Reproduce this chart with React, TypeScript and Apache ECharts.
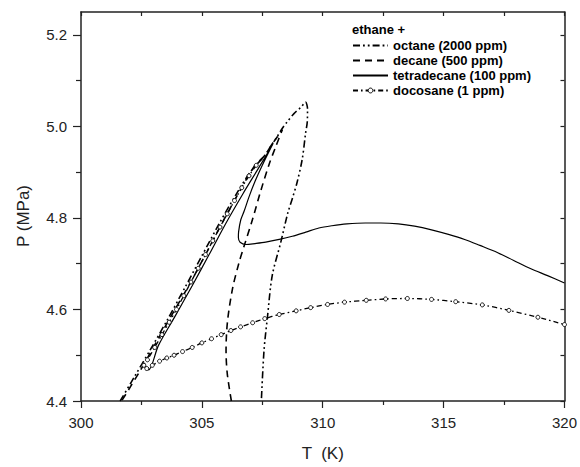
import React, { useEffect, useRef } from "react";
import * as echarts from "echarts";

const FONT = 'Arial, "Liberation Sans", Helvetica, sans-serif';

const xTicks = [300, 305, 310, 315, 320];
const yMajorTicks = [4.4, 4.6, 4.8, 5.0, 5.2];
const yMinorTicks = [4.5, 4.7, 4.9, 5.1];
const yRightTicks = [4.4, 4.5, 4.6, 4.7, 4.8, 4.9, 5.0, 5.1, 5.2];

const seriesNames = [
  "octane (2000 ppm)",
  "decane (500 ppm)",
  "tetradecane (100 ppm)",
  "docosane (1 ppm)",
];

// octane (2000 ppm)
const octaneT = [301.62, 302.2, 302.9, 303.6, 304.3, 305.0, 305.7, 306.4, 307.0, 307.64, 307.85, 308.12, 308.33, 308.53, 308.81, 309.1, 309.29, 309.37, 309.36, 309.29, 309.15, 308.94, 308.74, 308.55, 308.26, 307.91, 307.71, 307.57, 307.46];
const octaneP = [4.4, 4.452, 4.515, 4.58, 4.648, 4.717, 4.786, 4.85, 4.9, 4.939, 4.957, 4.978, 4.996, 5.01, 5.028, 5.042, 5.053, 5.038, 5.01, 4.985, 4.928, 4.878, 4.842, 4.81, 4.746, 4.674, 4.582, 4.51, 4.4];

// decane (500 ppm)
const decaneT = [306.22, 306.05, 306.0, 306.06, 306.27, 306.54, 306.75, 307.09, 307.44, 307.78, 308.05, 308.33, 308.05, 307.85, 307.6, 307.2, 306.6, 305.9, 305.2, 304.5, 303.8, 303.1, 302.4, 301.68];
const decaneP = [4.4, 4.46, 4.51, 4.574, 4.646, 4.703, 4.739, 4.796, 4.86, 4.917, 4.955, 4.993, 4.972, 4.957, 4.936, 4.915, 4.862, 4.795, 4.725, 4.656, 4.592, 4.527, 4.462, 4.4];

// tetradecane (100 ppm)
const tetraT = [302.62, 302.8, 303.2, 303.9, 304.6, 305.3, 306.0, 306.7, 307.3, 307.7, 307.94, 307.5, 307.2, 306.95, 306.75, 306.61, 306.52, 306.51, 306.58, 306.82, 307.2, 307.64, 308.2, 308.74, 309.3, 309.84, 310.38, 311.0, 311.76, 312.4, 313.13, 313.8, 314.5, 315.2, 315.87, 316.5, 317.24, 317.9, 318.61, 319.3, 320.0];
const tetraP = [4.478, 4.468, 4.521, 4.586, 4.652, 4.72, 4.789, 4.853, 4.905, 4.94, 4.962, 4.915, 4.88, 4.846, 4.815, 4.796, 4.77, 4.757, 4.747, 4.742, 4.744, 4.747, 4.753, 4.76, 4.769, 4.778, 4.783, 4.787, 4.789, 4.789, 4.787, 4.782, 4.774, 4.764, 4.753, 4.74, 4.724, 4.707, 4.689, 4.674, 4.658];

// docosane (1 ppm)
const docoT = [307.25, 306.95, 306.65, 306.35, 306.05, 305.75, 305.45, 305.15, 304.85, 304.55, 304.25, 303.95, 303.65, 303.35, 303.05, 302.75, 302.6, 302.72, 302.95, 303.25, 303.55, 303.85, 304.2, 304.6, 305.0, 305.4, 305.8, 306.2, 306.6, 307.1, 307.6, 308.2, 308.9, 309.5, 310.2, 310.9, 311.8, 312.6, 313.5, 314.5, 315.5, 316.6, 317.7, 318.9, 320.0];
const docoP = [4.915, 4.892, 4.866, 4.838, 4.809, 4.78, 4.75, 4.72, 4.69, 4.66, 4.63, 4.6, 4.572, 4.545, 4.517, 4.49, 4.478, 4.471, 4.478, 4.487, 4.494, 4.5, 4.508, 4.517, 4.527, 4.536, 4.545, 4.554, 4.562, 4.571, 4.58, 4.589, 4.597, 4.604, 4.611, 4.616, 4.62, 4.623, 4.624, 4.622, 4.617, 4.61, 4.598, 4.583, 4.567];

const zip = (t: number[], p: number[]) => t.map((v, i) => [v, p[i]]);

const AX = "#222";

export default function App() {
  const ref = useRef<HTMLDivElement>(null);
  useEffect(() => {
    if (!ref.current) return;
    const chart = echarts.init(ref.current, null, { renderer: "svg" });
    const axisLine = { show: true, lineStyle: { color: AX, width: 1.5 } };
    const tickStyle = { color: AX, width: 1.2 };
    const hidden = { opacity: 0 };
    const option: any = {
      animation: false,
      backgroundColor: "#fff",
      textStyle: { fontFamily: FONT },
      grid: { left: 81, right: 13, top: 12, bottom: 59, containLabel: false },
      xAxis: [
        {
          type: "value",
          min: 300,
          max: 320,
          interval: 5,
          position: "bottom",
          axisLine,
          axisTick: { show: true, inside: false, length: 7, lineStyle: tickStyle },
          minorTick: { show: true, splitNumber: 2, length: 4, lineStyle: tickStyle },
          splitLine: { show: false },
          minorSplitLine: { show: false },
          axisLabel: {
            margin: 14,
            fontSize: 15,
            color: AX,
            fontFamily: FONT,
            formatter: (v: number) => (xTicks.includes(v) ? String(v) : ""),
          },
          name: "T  (K)",
          nameLocation: "middle",
          nameGap: 44,
          nameTextStyle: { fontSize: 17, color: AX, fontFamily: FONT },
        },
        {
          type: "value",
          min: 300,
          max: 320,
          interval: 2.5,
          position: "top",
          axisLine,
          axisTick: { show: true, inside: true, length: 4, lineStyle: tickStyle },
          axisLabel: { show: false },
          splitLine: { show: false },
        },
      ],
      yAxis: [
        {
          type: "value",
          min: 4.4,
          max: 5.25,
          position: "left",
          axisLine,
          axisTick: { show: true, inside: false, length: 8, customValues: yMajorTicks, lineStyle: tickStyle },
          axisLabel: {
            customValues: yMajorTicks,
            formatter: (v: number) => v.toFixed(1),
            margin: 14,
            fontSize: 15,
            color: AX,
            fontFamily: FONT,
          },
          splitLine: { show: false },
        },
        {
          type: "value",
          min: 4.4,
          max: 5.25,
          position: "left",
          axisLine: { show: false },
          axisTick: { show: true, inside: false, length: 5, customValues: yMinorTicks, lineStyle: tickStyle },
          axisLabel: { show: false },
          splitLine: { show: false },
        },
        {
          type: "value",
          min: 4.4,
          max: 5.25,
          position: "right",
          axisLine,
          axisTick: { show: true, inside: true, length: 4, customValues: yRightTicks, lineStyle: tickStyle },
          axisLabel: { show: false },
          splitLine: { show: false },
        },
      ],
      legend: {
        data: [
          { name: seriesNames[0], itemStyle: hidden },
          { name: seriesNames[1], itemStyle: hidden },
          { name: seriesNames[2], itemStyle: hidden },
          { name: seriesNames[3], itemStyle: { color: "#fff", borderColor: "#000", borderWidth: 1 } },
        ],
        orient: "vertical",
        left: 352,
        top: 38,
        padding: 0,
        itemWidth: 35,
        itemHeight: 6,
        itemGap: 0,
        selectedMode: false,
        textStyle: { fontSize: 13, lineHeight: 15, fontWeight: "bold", color: "#000", fontFamily: FONT },
      },
      graphic: [
        {
          type: "text",
          left: 352,
          top: 23,
          style: { text: "ethane +", font: `bold 13px ${FONT}`, fill: "#000" },
        },
        {
          type: "text",
          x: 23,
          y: 216,
          rotation: Math.PI / 2,
          style: {
            text: "P (MPa)",
            font: `17px ${FONT}`,
            fill: AX,
            textAlign: "center",
            textVerticalAlign: "middle",
          },
        },
      ],
      series: [
        {
          name: seriesNames[0],
          type: "line",
          data: zip(octaneT, octaneP),
          symbol: "none",
          smooth: 0.3,
          lineStyle: { color: "#000", width: 1.6, type: [7, 3, 1.8, 3, 1.8, 3] },
          itemStyle: { color: "#000" },
        },
        {
          name: seriesNames[1],
          type: "line",
          data: zip(decaneT, decaneP),
          symbol: "none",
          smooth: 0.3,
          lineStyle: { color: "#000", width: 1.6, type: [7, 5] },
          itemStyle: { color: "#000" },
        },
        {
          name: seriesNames[2],
          type: "line",
          data: zip(tetraT, tetraP),
          symbol: "none",
          smooth: 0.3,
          lineStyle: { color: "#000", width: 1.2, type: "solid" },
          itemStyle: { color: "#000" },
        },
        {
          name: seriesNames[3],
          type: "line",
          data: zip(docoT, docoP),
          symbol: "circle",
          symbolSize: 4,
          showSymbol: true,
          smooth: 0.3,
          lineStyle: { color: "#000", width: 1.3, type: [5, 3, 1.6, 3] },
          itemStyle: { color: "#fff", borderColor: "#000", borderWidth: 0.9 },
        },
      ],
    };
    chart.setOption(option);
    return () => chart.dispose();
  }, []);
  return (
    <div
      ref={ref}
      style={{ position: "fixed", left: 0, top: 0, width: 580, height: 467, background: "#fff" }}
    />
  );
}
